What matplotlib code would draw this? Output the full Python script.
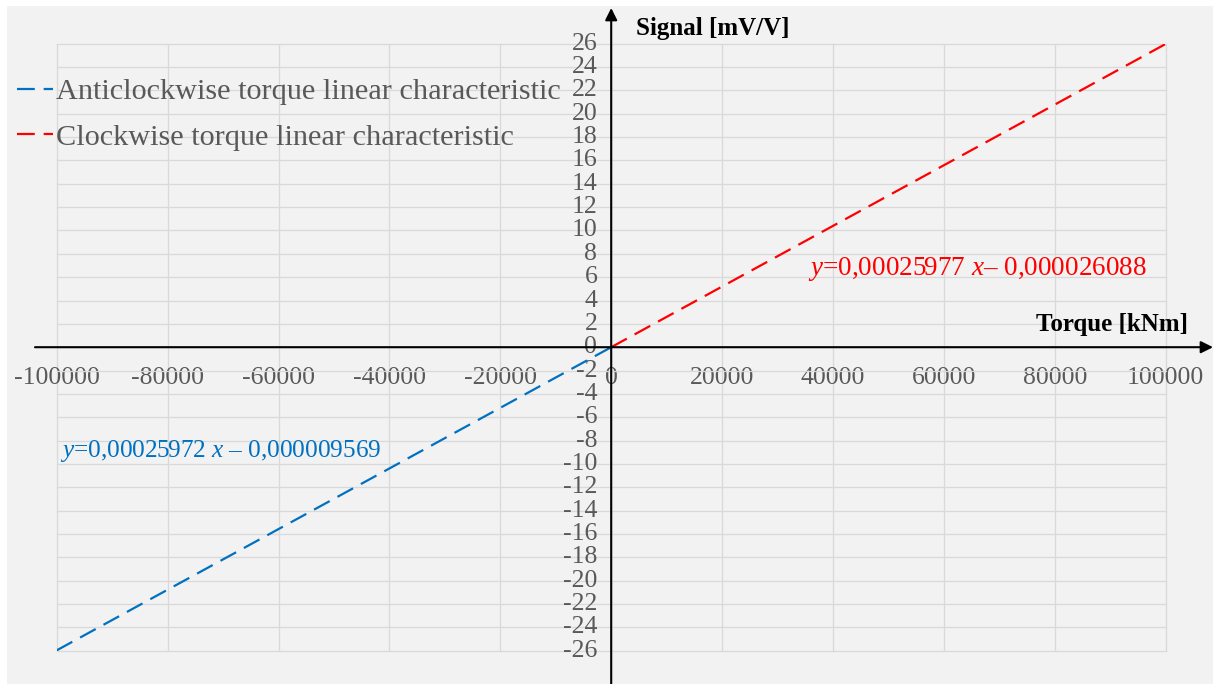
import matplotlib
matplotlib.use('Agg')
import matplotlib.pyplot as plt
from matplotlib.patches import Rectangle

# values
torque_acw = [-100000, 0]
signal_acw = [-25.97, 0.0]
torque_cw = [0, 100000]
signal_cw = [0.0, 25.98]

x_ticks = [-100000, -80000, -60000, -40000, -20000, 0,
           20000, 40000, 60000, 80000, 100000]
y_ticks = list(range(-26, 27, 2))
x_ticklabels = [str(v) for v in x_ticks]
y_ticklabels = [str(v) for v in y_ticks]

label_acw = 'Anticlockwise torque linear characteristic'
label_cw = 'Clockwise torque linear characteristic'
eq_acw = r'$\mathit{y}$=0,00025972 $\mathit{x}$ – 0,000009569'
eq_cw = r'$\mathit{y}$=0,00025977 $\mathit{x}$– 0,000026088'

plt.rcParams['font.family'] = ['Liberation Serif', 'DejaVu Serif']
plt.rcParams['mathtext.fontset'] = 'custom'
plt.rcParams['mathtext.rm'] = 'Liberation Serif'
plt.rcParams['mathtext.it'] = 'Liberation Serif:italic'

W, H = 1213, 684
fig = plt.figure(figsize=(W / 100, H / 100), dpi=100)
fig.patches.append(Rectangle((7 / W, 0), 1 - 7 / W, 1 - 6 / H,
                             transform=fig.transFigure, facecolor='#f2f2f2',
                             edgecolor='none', zorder=-1))

ax = fig.add_axes([56.7 / W, (H - 650.7) / H, 1109 / W, 607 / H])
ax.set_facecolor('#f2f2f2')
ax.set_xlim(-100000, 100000)
ax.set_ylim(-26, 26)

ax.plot(torque_acw, signal_acw, color='#0070c0', lw=1.6, dashes=(8, 4),
        label=label_acw, zorder=3)
ax.plot(torque_cw, signal_cw, color='#ff0000', lw=1.6, dashes=(8, 4),
        label=label_cw, zorder=3)

for s in ax.spines.values():
    s.set_visible(False)
ax.spines['left'].set_position(('data', 0))
ax.spines['bottom'].set_position(('data', 0))

ax.set_xticks(x_ticks)
ax.set_xticklabels(x_ticklabels)
ax.set_yticks(y_ticks)
ax.set_yticklabels(y_ticklabels)
ax.tick_params(axis='x', length=0, pad=14, labelsize=18.5, labelcolor='#595959')
ax.tick_params(axis='y', length=0, pad=10, labelsize=18.5, labelcolor='#595959')
for lab in ax.get_yticklabels():
    lab.set_verticalalignment('center')

ax.grid(True, color='#d9d9d9', lw=0.9)
for gl in ax.get_xgridlines() + ax.get_ygridlines():
    gl.set_clip_on(False)
ax.set_axisbelow(True)

# axis arrows
ax.annotate('', xy=(1.0, 0), xytext=(35 / W, 0),
            xycoords=('figure fraction', 'data'),
            textcoords=('figure fraction', 'data'),
            arrowprops=dict(arrowstyle='-|>', color='black', lw=1.5,
                            mutation_scale=18, shrinkA=0, shrinkB=0))
ax.annotate('', xy=(0, 1 - 8 / H), xytext=(0, 0),
            xycoords=('data', 'figure fraction'),
            textcoords=('data', 'figure fraction'),
            arrowprops=dict(arrowstyle='-|>', color='black', lw=1.5,
                            mutation_scale=18, shrinkA=0, shrinkB=0))

fig.text(636 / W, 1 - 28 / H, 'Signal [mV/V]', fontsize=18,
         fontweight='bold', va='center', ha='left')
fig.text(1188 / W, 1 - 325 / H, 'Torque [kNm]', fontsize=18,
         fontweight='bold', va='center', ha='right')

ax.text(0.003, 0.329, eq_acw, transform=ax.transAxes, color='#0070c0',
        fontsize=18.2, va='center', ha='left')
ax.text(0.6775, 0.629, eq_cw, transform=ax.transAxes, color='#ff0000',
        fontsize=19.5, va='center', ha='left')

leg = ax.legend(loc='upper left', bbox_to_anchor=(17 / W, 1 - 78 / H),
                bbox_transform=fig.transFigure, frameon=False, fontsize=21.8,
                handlelength=1.2, handletextpad=0.1, labelspacing=0.6,
                borderaxespad=0, borderpad=0)
for t in leg.get_texts():
    t.set_color('#595959')

fig.savefig('out.png', dpi=100)
